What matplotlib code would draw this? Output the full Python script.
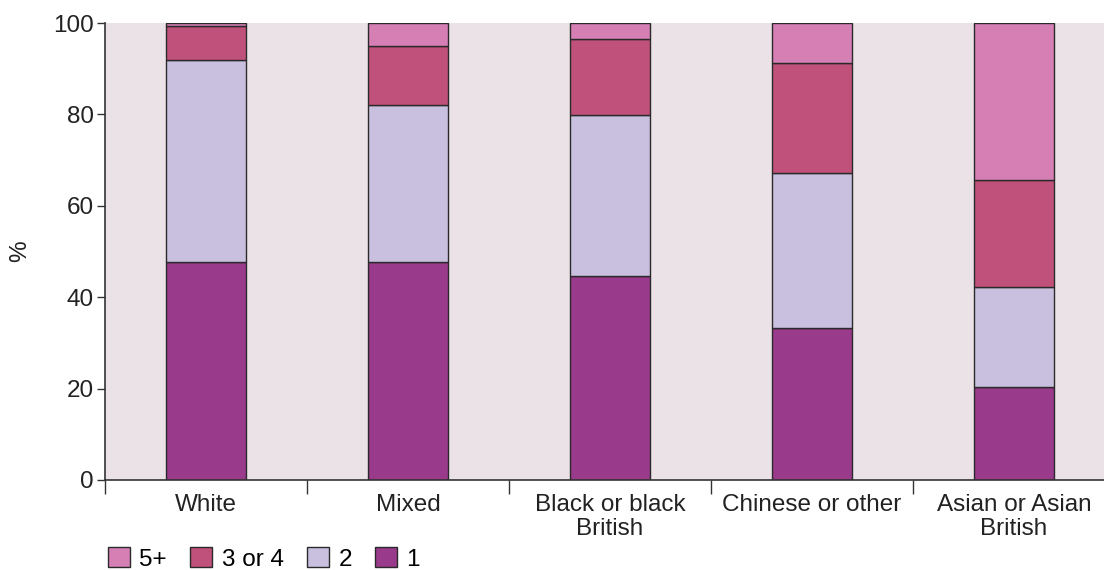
import matplotlib
matplotlib.use("Agg")
import matplotlib.pyplot as plt
from matplotlib.patches import Patch
import numpy as np

categories = ["White", "Mixed", "Black or black\nBritish", "Chinese or other", "Asian or Asian\nBritish"]
series_names = ["1", "2", "3 or 4", "5+"]
s1 = [47.6, 47.6, 44.6, 33.2, 20.4]
s2 = [44.4, 34.5, 35.3, 33.9, 21.8]
s34 = [7.4, 12.9, 16.5, 24.1, 23.4]
s5 = [0.6, 5.0, 3.6, 8.8, 34.4]
colors = ["#993a8b", "#c9c0df", "#c0517a", "#d57fb5"]
yticks = [0, 20, 40, 60, 80, 100]

plt.rcParams['font.family'] = ['Liberation Sans Narrow', 'Liberation Sans', 'DejaVu Sans']
plt.rcParams['font.size'] = 17.5

fig = plt.figure(figsize=(11.04, 5.70), dpi=100)
ax = fig.add_axes([105/1104, 90/570, 1010/1104, 457/570])
ax.set_facecolor("#ebe2e8")

x = np.arange(len(categories))
bottom = np.zeros(len(categories))
handles = []
for vals, col, name in zip([s1, s2, s34, s5], colors, series_names):
    ax.bar(x, vals, bottom=bottom, width=0.4, color=col, edgecolor="#2a2a2a", linewidth=1.0)
    bottom += np.array(vals)
    handles.append(Patch(facecolor=col, edgecolor="#2a2a2a", linewidth=1.0, label=name))

ax.set_xlim(-0.5, len(categories) - 0.5)
ax.set_ylim(0, 100)
ax.set_yticks(yticks)
ax.set_yticklabels([str(t) for t in yticks], color="#222222")
ax.tick_params(axis='y', length=6, width=1, color="#333333", pad=2)

ax.set_xticks(np.arange(len(categories) + 1) - 0.5)
ax.set_xticklabels([])
ax.tick_params(axis='x', length=10, width=1, color="#333333")
ax.set_xticks(x, minor=True)
ax.set_xticklabels(categories, minor=True, color="#222222", linespacing=1.15)
ax.tick_params(axis='x', which='minor', length=0, pad=10)

for s in ["top", "right"]:
    ax.spines[s].set_visible(False)
for s in ["left", "bottom"]:
    ax.spines[s].set_color("#333333")
    ax.spines[s].set_linewidth(1.2)

ax.set_ylabel("%", color="#222222", labelpad=16)

leg = fig.legend(handles[::-1], [h.get_label() for h in handles[::-1]], ncol=4, frameon=False,
                 loc='lower left', bbox_to_anchor=(98/1104, -0.018), handlelength=0.9, handleheight=0.9,
                 handletextpad=0.4, columnspacing=0.95, borderaxespad=0)

fig.savefig("out.png", dpi=100)
